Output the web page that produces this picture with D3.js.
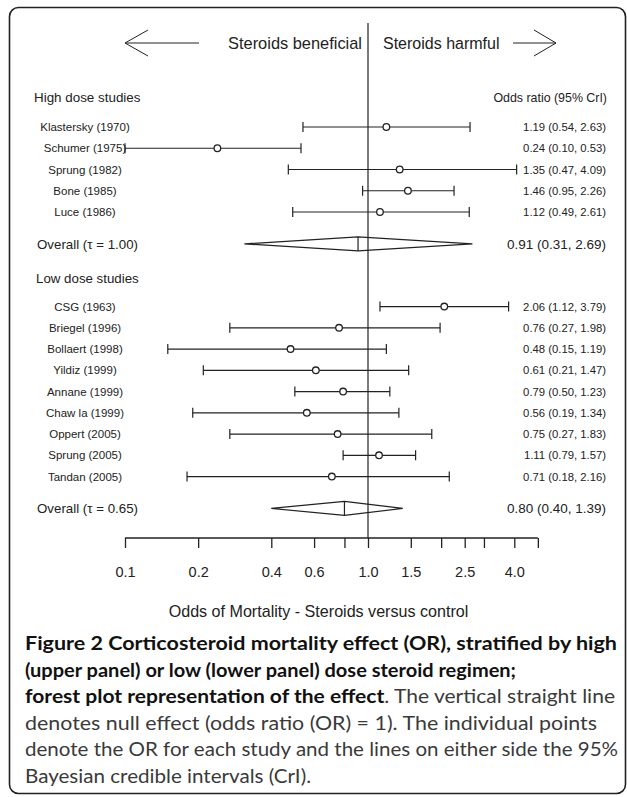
<!DOCTYPE html>
<html><head><meta charset="utf-8">
<script src="https://cdn.jsdelivr.net/npm/d3@7"></script>
<style>body{margin:0;background:#fff}svg{display:block}</style>
</head><body><svg id="c" width="627" height="797"></svg>
<script>
// ---- data ----
const highStudies = ["Klastersky (1970)","Schumer (1975)","Sprung (1982)","Bone (1985)","Luce (1986)"];
const highOR    = [1.19,0.24,1.35,1.46,1.12];
const highLower = [0.54,0.10,0.47,0.95,0.49];
const highUpper = [2.63,0.53,4.09,2.26,2.61];
const highPooled = [0.91,0.31,2.69];
const highTau = "1.00";

const lowStudies = ["CSG (1963)","Briegel (1996)","Bollaert (1998)","Yildiz (1999)","Annane (1999)","Chaw la (1999)","Oppert (2005)","Sprung (2005)","Tandan (2005)"];
const lowOR    = [2.06,0.76,0.48,0.61,0.79,0.56,0.75,1.11,0.71];
const lowLower = [1.12,0.27,0.15,0.21,0.50,0.19,0.27,0.79,0.18];
const lowUpper = [3.79,1.98,1.19,1.47,1.23,1.34,1.83,1.57,2.16];
const lowPooled = [0.80,0.40,1.39];
const lowTau = "0.65";

const tickValues = [0.1,0.2,0.4,0.6,0.8,1.0,1.5,2.0,2.5,3.0,4.0,5.0];
const tickLabels = ["0.1","0.2","0.4","0.6","","1.0","1.5","","2.5","","4.0",""];

const captionLines = [
  [["Figure 2 Corticosteroid mortality effect (OR), stratified by high", true]],
  [["(upper panel) or low (lower panel) dose steroid regimen;", true]],
  [["forest plot representation of the effect", true], [". The vertical straight line", false]],
  [["denotes null effect (odds ratio (OR) = 1). The individual points", false]],
  [["denote the OR for each study and the lines on either side the 95%", false]],
  [["Bayesian credible intervals (CrI).", false]]
];
const captionWidths = [592, 491, 590, 572, 593, 286];

// ---- layout ----
const svg = d3.select("#c");
const FONT = "'Liberation Sans', Arial, sans-serif";
const INK = "#222";
const x = d3.scaleLog().domain([0.1, 1]).range([125, 368]);
const y = d3.scaleLinear().domain([0, 1]).range([127, 148.25]);

// frame
svg.append("rect").attr("x", 9.5).attr("y", 7.5).attr("width", 616).attr("height", 786)
  .attr("rx", 9).attr("fill", "none").attr("stroke", "#222").attr("stroke-width", 1.6);

const g = svg.append("g").attr("font-family", FONT).attr("fill", INK);

// header arrows and text
const aY = 43;
g.append("line").attr("x1", x(0.1)).attr("x2", 199).attr("y1", aY).attr("y2", aY).attr("stroke", INK).attr("stroke-width", 1);
g.append("polyline").attr("points", `148,30 ${x(0.1)},${aY} 148,56`).attr("fill", "none").attr("stroke", INK).attr("stroke-width", 1);
g.append("line").attr("x1", 513).attr("x2", 556).attr("y1", aY).attr("y2", aY).attr("stroke", INK).attr("stroke-width", 1);
g.append("polyline").attr("points", `534,30 556,${aY} 534,56`).attr("fill", "none").attr("stroke", INK).attr("stroke-width", 1);
g.append("text").attr("x", 362).attr("y", aY).attr("dy", "0.36em").attr("text-anchor", "end")
  .attr("font-size", 16.4).text("Steroids beneficial");
g.append("text").attr("x", 383).attr("y", aY).attr("dy", "0.36em")
  .attr("font-size", 16.0).text("Steroids harmful");

// null line
g.append("line").attr("x1", x(1)).attr("x2", x(1)).attr("y1", 23).attr("y2", 538)
  .attr("stroke", INK).attr("stroke-width", 1.2);

// section headers
g.append("text").attr("x", 34).attr("y", y(-1.41)).attr("dy", "0.36em").attr("font-size", 13.4).text("High dose studies");
g.append("text").attr("x", 607).attr("y", y(-1.41)).attr("dy", "0.36em").attr("text-anchor", "end").attr("font-size", 12.4).text("Odds ratio (95% CrI)");
g.append("text").attr("x", 36).attr("y", y(7.1)).attr("dy", "0.36em").attr("font-size", 13.3).text("Low dose studies");

function studies(names, or, lo, hi, start) {
  const rows = names.map((n, i) => ({name: n, or: or[i], lo: lo[i], hi: hi[i], pos: start + i}));
  const rg = g.selectAll(null).data(rows).enter().append("g");
  rg.append("text").attr("x", 85).attr("y", d => y(d.pos)).attr("dy", "0.36em")
    .attr("text-anchor", "middle").attr("font-size", 11.5).text(d => d.name);
  rg.append("line").attr("x1", d => x(d.lo)).attr("x2", d => x(d.hi)).attr("y1", d => y(d.pos)).attr("y2", d => y(d.pos))
    .attr("stroke", INK).attr("stroke-width", 1.2);
  rg.append("line").attr("x1", d => x(d.lo)).attr("x2", d => x(d.lo)).attr("y1", d => y(d.pos) - 5).attr("y2", d => y(d.pos) + 5)
    .attr("stroke", INK).attr("stroke-width", 1.2);
  rg.append("line").attr("x1", d => x(d.hi)).attr("x2", d => x(d.hi)).attr("y1", d => y(d.pos) - 5).attr("y2", d => y(d.pos) + 5)
    .attr("stroke", INK).attr("stroke-width", 1.2);
  rg.append("circle").attr("cx", d => x(d.or)).attr("cy", d => y(d.pos)).attr("r", 3.3)
    .attr("fill", "#fff").attr("stroke", INK).attr("stroke-width", 1.3);
  rg.append("text").attr("x", 606).attr("y", d => y(d.pos)).attr("dy", "0.36em")
    .attr("text-anchor", "end").attr("font-size", 11.3)
    .text(d => `${d.or.toFixed(2)} (${d.lo.toFixed(2)}, ${d.hi.toFixed(2)})`);
}

function pooled(p, tau, pos) {
  const [est, lo, hi] = p;
  const cy = y(pos);
  g.append("text").attr("x", 37).attr("y", cy).attr("dy", "0.36em").attr("font-size", 13.3)
    .text(`Overall (\u03c4 = ${tau})`);
  g.append("polygon").attr("points", [[x(lo), cy], [x(est), cy - 7], [x(hi), cy], [x(est), cy + 7]].map(q => q.join(",")).join(" "))
    .attr("fill", "none").attr("stroke", INK).attr("stroke-width", 1.2);
  g.append("line").attr("x1", x(est)).attr("x2", x(est)).attr("y1", cy - 7).attr("y2", cy + 7)
    .attr("stroke", INK).attr("stroke-width", 1.2);
  g.append("text").attr("x", 606).attr("y", cy).attr("dy", "0.36em").attr("text-anchor", "end").attr("font-size", 13.5)
    .text(`${est.toFixed(2)} (${lo.toFixed(2)}, ${hi.toFixed(2)})`);
}

studies(highStudies, highOR, highLower, highUpper, 0);
pooled(highPooled, highTau, 5.5);
studies(lowStudies, lowOR, lowLower, lowUpper, 8.45);
pooled(lowPooled, lowTau, 17.95);

// axis
const axis = d3.axisBottom(x).tickValues(tickValues).tickSize(10).tickSizeOuter(0).tickPadding(18.5)
  .tickFormat((d, i) => tickLabels[i]);
const ax = svg.append("g").attr("transform", "translate(0,538)").call(axis);
ax.select(".domain")
  .attr("d", `M${x(tickValues[0])},0H${x(tickValues[tickValues.length - 1])}`)
  .attr("fill", "none").attr("stroke", INK).attr("stroke-width", 1.3);
ax.selectAll(".tick line").attr("stroke", INK).attr("stroke-width", 1.3);
ax.selectAll(".tick text").attr("font-family", FONT).attr("font-size", 14.5).attr("fill", INK);

g.append("text").attr("x", 318.5).attr("y", 617).attr("text-anchor", "middle").attr("font-size", 16.1)
  .text("Odds of Mortality - Steroids versus control");

// caption
const cap = svg.append("g").attr("font-family", "Lato, 'Open Sans', sans-serif").attr("font-size", 19.5);
captionLines.forEach((parts, i) => {
  const t = cap.append("text").attr("x", 25).attr("y", 650 + i * 26.5)
    .attr("textLength", captionWidths[i]).attr("lengthAdjust", "spacingAndGlyphs");
  parts.forEach(([s, bold]) => {
    t.append("tspan").attr("font-weight", bold ? "bold" : "normal").attr("fill", bold ? "#111" : "#3a3a3a").text(s);
  });
});
</script></body></html>
